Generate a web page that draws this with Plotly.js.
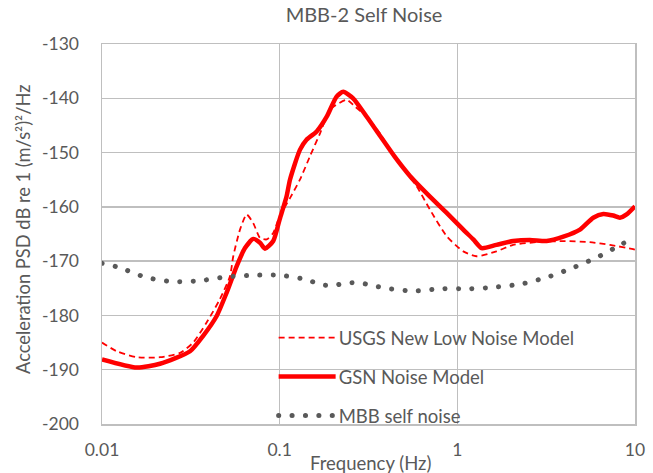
<!DOCTYPE html>
<html>
<head>
<meta charset="utf-8">
<script src="https://cdn.plot.ly/plotly-3.0.1.min.js"></script>
<style>
html,body{margin:0;padding:0;background:#fff;}
#chart{width:653px;height:473px;}
</style>
</head>
<body>
<div id="chart"></div>
<script>
// ---- data ----
const gsnFreq = [0.01, 0.0157, 0.0212, 0.0313, 0.037, 0.0442, 0.0503, 0.0573, 0.0638, 0.071, 0.0775, 0.0827, 0.092, 0.1, 0.1093, 0.1143, 0.13, 0.142, 0.1616, 0.184, 0.209, 0.228, 0.259, 0.309, 0.367, 0.445, 0.541, 0.701, 0.871, 1.08, 1.23, 1.37, 1.66, 2.06, 2.56, 3.18, 3.95, 4.90, 5.82, 6.63, 7.54, 8.22, 8.97, 10];
const gsnDb   = [-188.1, -189.6, -188.9, -186.6, -183.8, -180.1, -175.8, -170.9, -167.6, -165.9, -166.6, -167.7, -166.3, -162.3, -158.1, -155.0, -149.5, -147.6, -146.1, -143.4, -139.7, -138.8, -140.0, -143.4, -146.9, -150.8, -154.3, -158.1, -161.1, -164.2, -166.0, -167.6, -167.0, -166.3, -166.1, -166.3, -165.5, -164.2, -162.0, -161.3, -161.6, -162.0, -161.4, -159.9];

const nlnmFreq = [0.01, 0.0121, 0.0157, 0.0212, 0.0275, 0.0326, 0.0388, 0.0461, 0.0525, 0.0548, 0.0598, 0.0652, 0.071, 0.0775, 0.0845, 0.092, 0.1, 0.1143, 0.13, 0.148, 0.169, 0.192, 0.238, 0.265, 0.309, 0.367, 0.445, 0.59, 0.701, 0.871, 1.08, 1.28, 1.66, 2.06, 2.79, 3.95, 5.57, 7.22, 9.77, 10];
const nlnmDb   = [-185.0, -186.6, -187.7, -187.7, -186.9, -185.0, -181.3, -177.0, -172.8, -169.1, -164.2, -161.4, -163.0, -165.7, -166.0, -164.8, -161.7, -158.4, -155.0, -150.7, -146.4, -142.1, -140.3, -141.5, -143.4, -146.5, -150.8, -156.2, -160.5, -165.4, -168.2, -169.1, -168.2, -167.0, -166.5, -166.3, -166.5, -167.0, -167.8, -167.9];

const mbbFreq = [0.01, 0.0126, 0.0177, 0.0252, 0.0356, 0.0503, 0.071, 0.1, 0.142, 0.169, 0.20, 0.238, 0.283, 0.334, 0.40, 0.566, 0.80, 1.15, 1.63, 2.30, 3.25, 4.49, 6.21, 8.51, 10];
const mbbDb   = [-170.4, -171.2, -173.0, -173.8, -173.6, -172.9, -172.6, -172.6, -173.4, -174.3, -174.5, -174.0, -174.0, -174.5, -175.0, -175.5, -175.1, -175.1, -174.8, -174.2, -172.9, -171.2, -169.2, -166.8, -165.6];

const xTickVals = [0.01, 0.1, 1, 10];
const xTickText = ['0.01', '0.1', '1', '10'];
const yTickVals = [-200, -190, -180, -170, -160, -150, -140, -130];
const yTickText = ['-200', '-190', '-180', '-170', '-160', '-150', '-140', '-130'];
const seriesNames = ['USGS New Low Noise Model', 'GSN Noise Model', 'MBB self noise'];

const FONT = 'Lato, "Open Sans", sans-serif';
const TXT = '#595959';
const GRID = '#bfbfbf';

const traces = [
  {x: nlnmFreq, y: nlnmDb, name: seriesNames[0], mode: 'lines', type: 'scatter',
   line: {color: '#ff0000', width: 1.8, dash: '6px,4px', shape: 'spline', smoothing: 0.6}, legend: 'legend'},
  {x: gsnFreq, y: gsnDb, name: seriesNames[1], mode: 'lines', type: 'scatter',
   line: {color: '#ff0000', width: 4.5, shape: 'spline', smoothing: 0.6}, legend: 'legend2'},
  {x: mbbFreq, y: mbbDb, name: seriesNames[2], mode: 'lines', type: 'scatter',
   line: {color: '#595959', width: 5, dash: '0.1px,13.3px', shape: 'spline', smoothing: 0.6}, legend: 'legend3'}
];

const legBase = {x: 0.322, xanchor: 'left', yanchor: 'middle', bgcolor: 'rgba(0,0,0,0)',
  font: {family: FONT, size: 18.5, color: TXT}, itemwidth: 55, borderwidth: 0};

const layout = {
  width: 653, height: 473,
  margin: {l: 102, r: 18, t: 44, b: 49},
  paper_bgcolor: '#fff', plot_bgcolor: '#fff',
  font: {family: FONT, color: TXT, size: 17.5},
  title: {text: 'MBB-2 Self Noise', x: 364/653, xanchor: 'center', y: 1 - 15/473, yanchor: 'middle',
          font: {family: FONT, size: 20, color: TXT}},
  xaxis: {type: 'log', range: [-2, 1], tickvals: xTickVals, ticktext: xTickText,
          showgrid: true, gridcolor: GRID, gridwidth: 1.5, showline: true, linecolor: GRID, linewidth: 1.5, mirror: true,
          ticks: '', ticklabelstandoff: 9, tickfont: {family: FONT, size: 17.5, color: TXT}, zeroline: false},
  yaxis: {range: [-200, -130], tickvals: yTickVals, ticktext: yTickText,
          showgrid: true, gridcolor: GRID, gridwidth: 1.5, showline: true, linecolor: GRID, linewidth: 1.5, mirror: true,
          ticks: '', ticklabelstandoff: 18, tickfont: {family: FONT, size: 17.5, color: TXT}, zeroline: false},
  showlegend: true,
  legend:  Object.assign({}, legBase, {y: (424 - 338) / 380}),
  legend2: Object.assign({}, legBase, {y: (424 - 377) / 380}),
  legend3: Object.assign({}, legBase, {y: (424 - 416) / 380}),
  annotations: [
    {text: 'Frequency (Hz)', xref: 'paper', yref: 'paper', x: (370 - 102) / 533, y: -(463 - 424) / 380,
     xanchor: 'center', yanchor: 'middle', showarrow: false, font: {family: FONT, size: 18.5, color: TXT}},
    {text: 'Acceleration PSD dB re 1 (m/s²)²/Hz', xref: 'paper', yref: 'paper', x: -(102 - 23) / 533, y: (424 - 230) / 380,
     xanchor: 'center', yanchor: 'middle', textangle: -90, showarrow: false, font: {family: FONT, size: 18.3, color: TXT}}
  ]
};

Plotly.newPlot('chart', traces, layout, {staticPlot: true, displayModeBar: false}).then(function () {
  // round caps for the dotted series (main line + legend sample)
  document.querySelectorAll('path').forEach(function (p) {
    const da = p.style.strokeDasharray || '';
    if (da.indexOf('13.3') >= 0) p.style.strokeLinecap = 'round';
  });
  // longer legend samples
  document.querySelectorAll('.legendlines path').forEach(function (p) {
    p.setAttribute('d', 'M5,0h57');
  });
});
</script>
</body>
</html>
